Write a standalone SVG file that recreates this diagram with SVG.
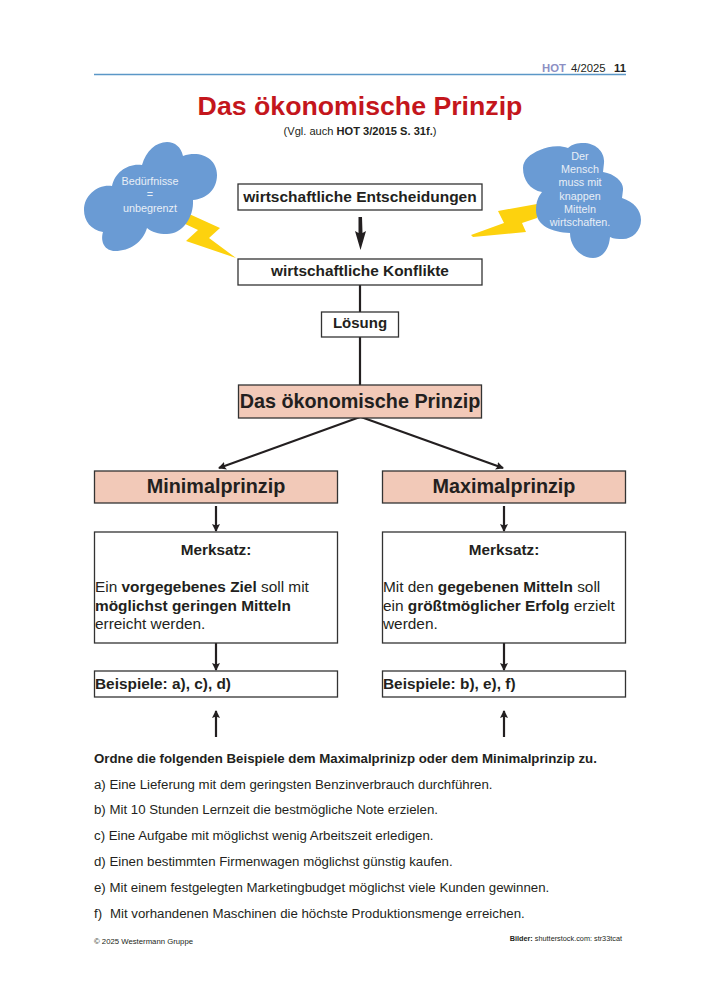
<svg xmlns="http://www.w3.org/2000/svg" width="720" height="992" viewBox="0 0 720 992">
<defs>
<style>
text{font-family:"Liberation Sans",Arial,sans-serif;fill:#231f20}
.b{font-weight:bold}
.c{text-anchor:middle}
.box{fill:#fff;stroke:#333;stroke-width:1.3}
.pink{fill:#f2c9b8;stroke:#333;stroke-width:1.3}
.cloud{fill:#6a9bd4}
.bolt{fill:#fdd20e}
.ct{fill:#e8eef6;font-size:10.8px;text-anchor:middle}
.ln{stroke:#231f20;stroke-width:2.2;fill:none}
.t{font-size:13.25px}
</style>
<marker id="ah" markerUnits="userSpaceOnUse" markerWidth="8" markerHeight="10" refX="7" refY="4" orient="auto"><path d="M0,0L8,4L0,8L1.5,4Z" fill="#231f20"/></marker>
</defs>
<rect width="720" height="992" fill="#fff"/>
<g id="header">
<line x1="94" y1="74.5" x2="626" y2="74.5" stroke="#5b97c7" stroke-width="1.6"/>
<text x="542" y="72" font-size="11.300" class="b" style="fill:#8d8fc4">HOT</text>
<text x="571" y="72" font-size="11.300">4/2025</text>
<text x="614" y="72" font-size="11.300" class="b">11</text>
<text x="360" y="115" font-size="26.700" class="b c" style="fill:#c4161c">Das ökonomische Prinzip</text>
<text x="360" y="135" font-size="11.100" class="c">(Vgl. auch <tspan class="b">HOT 3/2015 S. 31f.</tspan>)</text>
</g>
<g id="cloud-left">
<path class="bolt" d="M187,213L220,228L209,238L236,258L186,241L198,230L183,223Z"/>
<path class="cloud" d="M112,186C115,172 128,163 142,165C146,151 156,142 167,142C175,142 181,147 183,156C200,150 217,158 217,175C217,190 206,199 193,200C194,218 182,234 167,234C158,234 152,232 147,228C143,242 130,251 115,251C105,251 100,242 103,232C91,230 84,221 84,210C84,195 98,184 112,186Z"/>
<text class="ct" x="150" y="185">Bedürfnisse</text>
<text class="ct" x="150" y="198">=</text>
<text class="ct" x="150" y="212">unbegrenzt</text>
</g>
<g id="cloud-right">
<path class="bolt" d="M537,204L498,211L504,223L471,235L473,237L526,232L522,223L537,218Z"/>
<path class="cloud" d="M540,150C548,146 560,145 568,148C572,144 578,143 583,143C596,143 605,152 604,163L603,172C615,174 624,182 623,190L622,198C634,202 641,210 641,220C641,231 632,239 623,239C618,239 614,239 610,237C609,250 602,258 593,258C581,258 570,247 570,233C552,232 536,226 536,210C536,202 538,197 542,192C530,190 523,180 523,168C523,160 530,154 540,150Z"/>
<text class="ct" x="580" y="160">Der</text>
<text class="ct" x="580" y="173">Mensch</text>
<text class="ct" x="580" y="186">muss mit</text>
<text class="ct" x="580" y="200">knappen</text>
<text class="ct" x="580" y="213">Mitteln</text>
<text class="ct" x="580" y="226">wirtschaften.</text>
</g>
<g id="connectors">
<line class="ln" x1="360" y1="285" x2="360" y2="312"/>
<line class="ln" x1="360" y1="337" x2="360" y2="385"/>
<path d="M358.500,217L362,217L362.500,233L366,231L360.500,250L355,231L358.500,233Z" fill="#231f20"/>
<line class="ln" x1="360" y1="417" x2="219" y2="468" marker-end="url(#ah)"/>
<line class="ln" x1="361" y1="417" x2="503" y2="468" marker-end="url(#ah)"/>
<line class="ln" x1="216" y1="506" x2="216" y2="531" marker-end="url(#ah)"/>
<line class="ln" x1="504" y1="506" x2="504" y2="531" marker-end="url(#ah)"/>
<line class="ln" x1="216" y1="643" x2="216" y2="670" marker-end="url(#ah)"/>
<line class="ln" x1="504" y1="643" x2="504" y2="670" marker-end="url(#ah)"/>
<line class="ln" x1="216" y1="737" x2="216" y2="711" marker-end="url(#ah)"/>
<line class="ln" x1="504" y1="737" x2="504" y2="711" marker-end="url(#ah)"/>
</g>
<g id="node-entscheidungen"><rect class="box" x="238" y="184" width="244" height="26"/><text x="360" y="202" font-size="15.500" class="b c">wirtschaftliche Entscheidungen</text></g>
<g id="node-konflikte"><rect class="box" x="238" y="259" width="244" height="26"/><text x="360" y="276" font-size="15.400" class="b c">wirtschaftliche Konflikte</text></g>
<g id="node-loesung"><rect class="box" x="321.500" y="312" width="77" height="25"/><text x="360" y="328" font-size="15" class="b c">Lösung</text></g>
<g id="node-prinzip"><rect class="pink" x="238.500" y="385" width="243" height="33"/><text x="360" y="408" font-size="19.800" class="b c">Das ökonomische Prinzip</text></g>
<g id="node-minimal"><rect class="pink" x="94.500" y="471" width="243" height="32"/><text x="216" y="493" font-size="19.800" class="b c">Minimalprinzip</text></g>
<g id="node-maximal"><rect class="pink" x="382.500" y="471" width="243" height="32"/><text x="504" y="493" font-size="19.800" class="b c">Maximalprinzip</text></g>
<g id="node-merksatz-min"><rect class="box" x="94.500" y="532" width="243" height="111"/>
<text x="216" y="555" font-size="15.300" class="b c">Merksatz:</text>
<text x="95" y="592" font-size="15.400">Ein <tspan class="b">vorgegebenes Ziel</tspan> soll mit</text>
<text x="95" y="611" font-size="15.400" class="b">möglichst geringen Mitteln</text>
<text x="95" y="629" font-size="15.400">erreicht werden.</text></g>
<g id="node-merksatz-max"><rect class="box" x="382.500" y="532" width="243" height="111"/>
<text x="504" y="555" font-size="15.300" class="b c">Merksatz:</text>
<text x="383" y="592" font-size="15.400">Mit den <tspan class="b">gegebenen Mitteln</tspan> soll</text>
<text x="383" y="611" font-size="15.400">ein <tspan class="b">größtmöglicher Erfolg</tspan> erzielt</text>
<text x="383" y="629" font-size="15.400">werden.</text></g>
<g id="node-beispiele-min"><rect class="box" x="94.500" y="671" width="243" height="26"/><text x="95" y="689" font-size="15.400" class="b">Beispiele: a), c), d)</text></g>
<g id="node-beispiele-max"><rect class="box" x="382.500" y="671" width="243" height="26"/><text x="383" y="689" font-size="15.400" class="b">Beispiele: b), e), f)</text></g>
<g id="tasks">
<text x="94" y="763" class="b t">Ordne die folgenden Beispiele dem Maximalprinizp oder dem Minimalprinzip zu.</text>
<text x="94" y="789" class="t">a) Eine Lieferung mit dem geringsten Benzinverbrauch durchführen.</text>
<text x="94" y="814" class="t">b) Mit 10 Stunden Lernzeit die bestmögliche Note erzielen.</text>
<text x="94" y="840" class="t">c) Eine Aufgabe mit möglichst wenig Arbeitszeit erledigen.</text>
<text x="94" y="866" class="t">d) Einen bestimmten Firmenwagen möglichst günstig kaufen.</text>
<text x="94" y="892" class="t">e) Mit einem festgelegten Marketingbudget möglichst viele Kunden gewinnen.</text>
<text x="94" y="918" class="t">f)<tspan x="110">Mit vorhandenen Maschinen die höchste Produktionsmenge erreichen.</tspan></text>
</g>
<g id="footer">
<text x="94" y="944" font-size="7.750">© 2025 Westermann Gruppe</text>
<text x="622" y="941" font-size="7.300" text-anchor="end"><tspan class="b">Bilder:</tspan> shutterstock.com: str33tcat</text>
</g>
</svg>
